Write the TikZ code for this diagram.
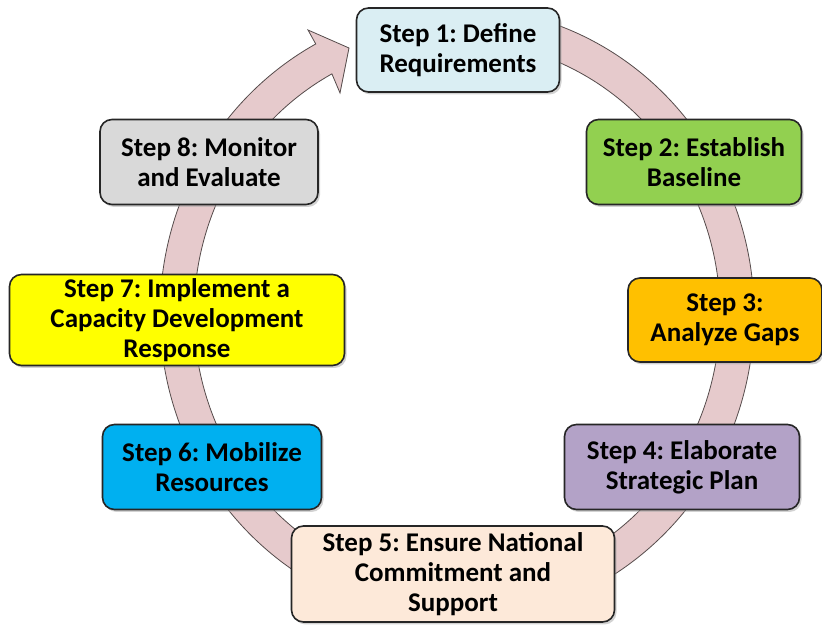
\documentclass[tikz,border=0pt]{standalone}
\usepackage{fontspec}
\setmainfont{Carlito}
\usetikzlibrary{shadows, calc}

\definecolor{ringfill}{RGB}{230,202,204}
\definecolor{ringline}{RGB}{85,75,75}
\definecolor{defcol}{RGB}{218,238,243}
\definecolor{basecol}{RGB}{146,208,80}
\definecolor{gapcol}{RGB}{255,192,0}
\definecolor{plancol}{RGB}{179,162,199}
\definecolor{suppcol}{RGB}{253,233,217}
\definecolor{rescol}{RGB}{0,176,240}
\definecolor{implcol}{RGB}{255,255,0}
\definecolor{moncol}{RGB}{217,217,217}

\begin{document}
\frenchspacing
\begin{tikzpicture}[x=1pt, y=1pt]
    \tikzstyle{every node} = [font=\fontsize{27}{30}\selectfont\bfseries, align=center, text=black]
    \tikzstyle{stepbox} = [draw=black!85, line width=1.6pt, rounded corners=12pt, inner sep=0pt,
        drop shadow={shadow xshift=2pt, shadow yshift=-2.5pt, fill=black!35}]
    \useasboundingbox (0,0) rectangle (822,626);
    \coordinate (c) at (457, 312);
    % ring with arrow head
    \draw [fill=ringfill, draw=ringline, line width=0.8pt, line join=miter]
        ($(c)+(75:297pt and 307pt)$)
        arc [start angle=75, end angle=-241.6, x radius=297pt, y radius=307pt]
        -- (308, 596) -- (349, 578) -- (340, 533)
        -- ($(c)+(118.4:263pt and 273pt)$)
        arc [start angle=-241.6, end angle=75, x radius=263pt, y radius=273pt]
        -- cycle;
    % steps
    \node [stepbox, fill=defcol, minimum width=203pt, minimum height=84pt] (s1) at (458, 576) {Step 1: Define\\Requirements};
    \node [stepbox, fill=basecol, minimum width=215pt, minimum height=85pt] (s2) at (694, 464) {Step 2: Establish\\Baseline};
    \node [stepbox, fill=gapcol, minimum width=194pt, minimum height=84pt] (s3) at (725, 306) {Step 3:\\Analyze Gaps};
    \node [stepbox, fill=plancol, minimum width=235pt, minimum height=85pt] (s4) at (682, 159) {Step 4: Elaborate\\Strategic Plan};
    \node [stepbox, fill=suppcol, minimum width=323pt, minimum height=96pt] (s5) at (453, 52) {Step 5: Ensure National\\Commitment and\\Support};
    \node [stepbox, fill=rescol, minimum width=219pt, minimum height=85pt] (s6) at (212, 159) {Step 6: Mobilize\\Resources};
    \node [stepbox, fill=implcol, minimum width=335pt, minimum height=91pt] (s7) at (177, 306) {Step 7: Implement a\\Capacity Development\\Response};
    \node [stepbox, fill=moncol, minimum width=218pt, minimum height=85pt] (s8) at (209, 464) {Step 8: Monitor\\and Evaluate};
\end{tikzpicture}
\end{document}
